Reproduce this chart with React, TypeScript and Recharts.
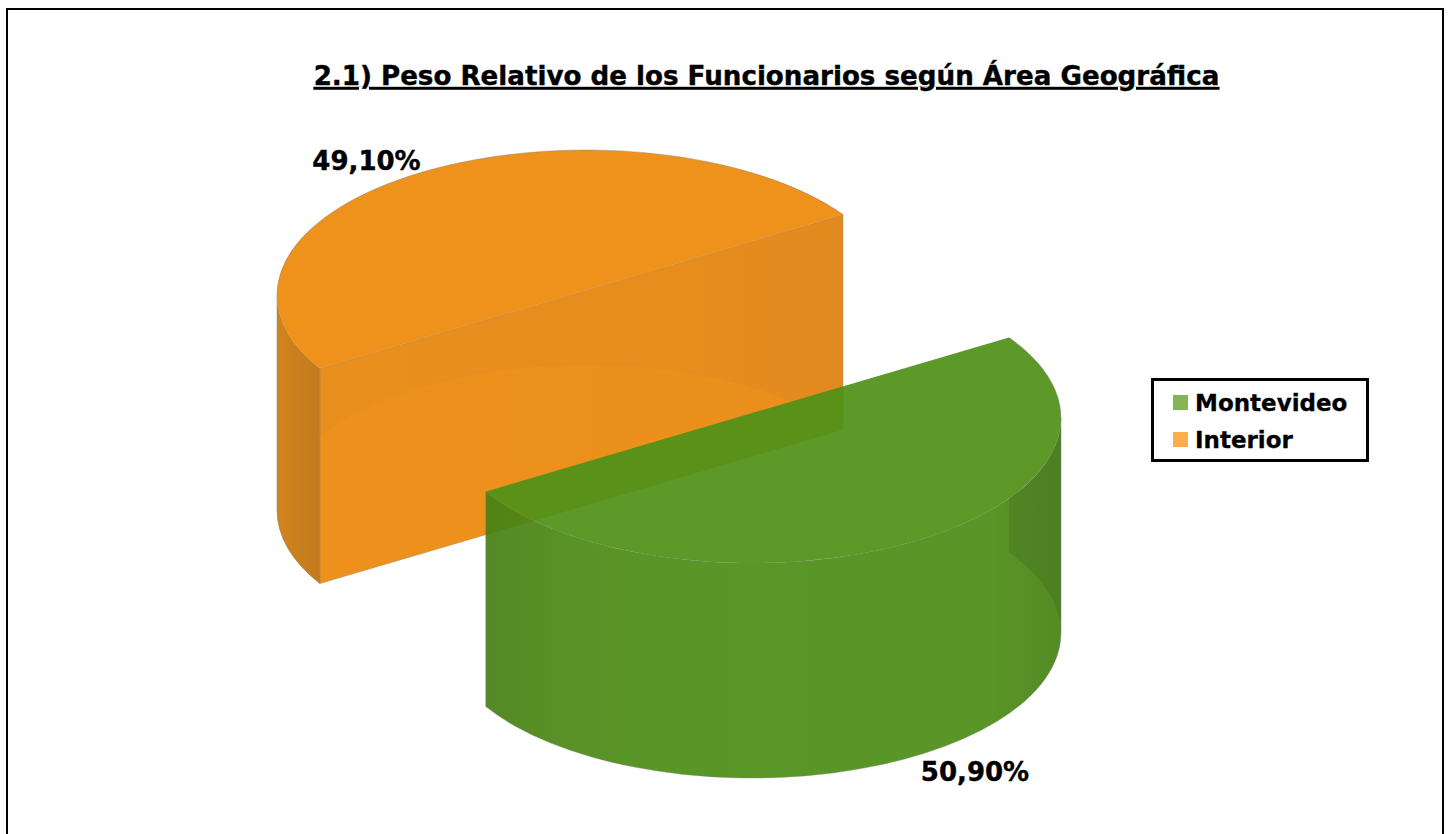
import { PieChart, Pie, Cell, Legend } from "recharts";

const TITLE = "2.1) Peso Relativo de los Funcionarios según Área Geográfica";
const CATEGORIES = ["Interior", "Montevideo"];
const VALUES = [49.1, 50.9];
const LEGEND_ORDER = ["Montevideo", "Interior"];
const LEGEND_COLORS: Record<string, string> = { Interior: "#FFAD4A", Montevideo: "#84B554" };

const tableData = CATEGORIES.map((name, i) => ({ name, value: VALUES[i] }));

const FONT = "'DejaVu Sans', Verdana, sans-serif";
const WIDTH = 1449;
const HEIGHT = 834;
const RY_RATIO = 145 / 309;
const DEPTH = 215;
const EDGE = "rgba(120,120,120,0.4)";

// how far each slice is pulled away from the pie centre
const EXPLODE: Record<string, [number, number]> = {
  Interior: [-83, -61.5],
  Montevideo: [83, 61.5],
};
const LABEL_POS: Record<string, [number, number]> = {
  Interior: [366.5, 170],
  Montevideo: [975, 781],
};
const SLICE_OPACITY: Record<string, number> = { Interior: 1, Montevideo: 0.93 };
const TOP_FILL: Record<string, string> = { Interior: "#EE921C", Montevideo: "#509219" };

const pt = (cx: number, cy: number, rx: number, ry: number, a: number) => {
  const r = (a * Math.PI) / 180;
  return [cx + rx * Math.cos(r), cy - ry * Math.sin(r)];
};

function arcPath(cx: number, cy: number, rx: number, ry: number, a0: number, a1: number) {
  const [x0, y0] = pt(cx, cy, rx, ry, a0);
  const [x1, y1] = pt(cx, cy, rx, ry, a1);
  const large = Math.abs(a1 - a0) > 180 ? 1 : 0;
  return `M${x0} ${y0}A${rx} ${ry} 0 ${large} 0 ${x1} ${y1}`;
}

function wallPath(cx: number, cy: number, rx: number, ry: number, a0: number, a1: number) {
  const [x0, y0] = pt(cx, cy, rx, ry, a0);
  const [x1, y1] = pt(cx, cy, rx, ry, a1);
  const large = Math.abs(a1 - a0) > 180 ? 1 : 0;
  return (
    `M${x0} ${y0}A${rx} ${ry} 0 ${large} 0 ${x1} ${y1}` +
    `L${x1} ${y1 + DEPTH}A${rx} ${ry} 0 ${large} 1 ${x0} ${y0 + DEPTH}Z`
  );
}

function Slice3D(props: any) {
  const { cx, cy, outerRadius, startAngle, endAngle, name } = props;
  const [ox, oy] = EXPLODE[name];
  const x = cx + ox;
  const y = cy + oy;
  const rx = outerRadius;
  const ry = outerRadius * RY_RATIO;
  const a0 = Math.min(startAngle, endAngle);
  const a1 = Math.max(startAngle, endAngle);
  const frontFrom = Math.max(a0, 180);
  const frontTo = Math.min(a1, 360);
  const [sx, sy] = pt(x, y, rx, ry, a0);
  const [ex, ey] = pt(x, y, rx, ry, a1);

  return (
    <g opacity={SLICE_OPACITY[name]}>
      {a1 < 360 && (
        <>
          <path
            d={`M${sx} ${sy}L${ex} ${ey}L${ex} ${ey + DEPTH}L${sx} ${sy + DEPTH}Z`}
            fill="url(#cut-Interior)"
            stroke={EDGE}
          />
          <path
            d={`${arcPath(x, y + DEPTH, rx, ry, a0, a1)}Z`}
            fill="#F0931C"
            fillOpacity={0.55}
          />
        </>
      )}
      <path
        d={wallPath(x, y, rx, ry, frontFrom, frontTo)}
        fill={`url(#wall-${name})`}
        stroke={EDGE}
      />
      {a1 > 360 && (
        <path d={wallPath(x, y, rx, ry, 360, a1)} fill="#000" fillOpacity={0.1} />
      )}
      <path d={`${arcPath(x, y, rx, ry, a0, a1)}Z`} fill={TOP_FILL[name]} />
      {/* borde gris del arco trasero */}
      <path
        d={a1 > 360 ? arcPath(x, y, rx, ry, 360, a1) : arcPath(x, y, rx, ry, a0, 180)}
        fill="none"
        stroke={EDGE}
      />
    </g>
  );
}

function sliceLabel(props: any) {
  const { name, value } = props;
  const [x, y] = LABEL_POS[name];
  return (
    <text
      x={x}
      y={y}
      textAnchor="middle"
      fontFamily={FONT}
      fontWeight="bold"
      fontSize={26}
      stroke="#000"
      strokeWidth={0.4}
      fill="#000"
    >
      {value.toFixed(2).replace(".", ",")}%
    </text>
  );
}

function LegendBox({ payload }: any) {
  return (
    <div
      style={{
        boxSizing: "border-box",
        width: 218,
        height: 84,
        border: "3px solid #000",
        background: "#fff",
        position: "relative",
        fontFamily: FONT,
      }}
    >
      {LEGEND_ORDER.map((name, i) => {
        const entry = (payload ?? []).find((p: any) => p.value === name);
        return (
          <div key={name}>
            <span
              style={{
                position: "absolute",
                left: 19,
                top: 14 + i * 36.5,
                width: 15,
                height: 15,
                background: entry?.color ?? LEGEND_COLORS[name],
              }}
            />
            <span
              style={{
                position: "absolute",
                left: 41,
                top: 8 + i * 36.5,
                fontSize: 23,
                fontWeight: "bold",
                lineHeight: "28px",
                color: "#000",
                WebkitTextStroke: "0.3px #000",
              }}
            >
              {name}
            </span>
          </div>
        );
      })}
    </div>
  );
}

export default function App() {
  return (
    <div style={{ position: "absolute", left: 0, top: 0, width: WIDTH, height: HEIGHT, background: "#fff", overflow: "hidden" }}>
      {/* marco */}
      <div
        style={{
          position: "absolute",
          left: 6,
          top: 8,
          width: 1434,
          height: 840,
          borderLeft: "2px solid #000",
          borderTop: "2px solid #000",
          borderRight: "2px solid #000",
        }}
      />
      <div style={{ position: "absolute", left: 0, top: 0 }}>
        <PieChart width={WIDTH} height={HEIGHT} margin={{ top: 0, right: 0, bottom: 0, left: 0 }}>
          <defs>
            <linearGradient id="wall-Interior" x1="0" y1="0" x2="1" y2="0">
              <stop offset="0%" stopColor="#D2841D" />
              <stop offset="100%" stopColor="#C27A1E" />
            </linearGradient>
            <linearGradient id="cut-Interior" x1="0" y1="0" x2="1" y2="0">
              <stop offset="0%" stopColor="#E88F1E" />
              <stop offset="70%" stopColor="#E78D1E" />
              <stop offset="100%" stopColor="#E2891F" />
            </linearGradient>
            <linearGradient id="wall-Montevideo" x1="0" y1="0" x2="1" y2="0">
              <stop offset="0%" stopColor="#488115" />
              <stop offset="16%" stopColor="#4D8B17" />
              <stop offset="45%" stopColor="#4F8F18" />
              <stop offset="88%" stopColor="#4E8D17" />
              <stop offset="100%" stopColor="#488315" />
            </linearGradient>
          </defs>
          <text
            x={766.5}
            y={85}
            textAnchor="middle"
            fontFamily={FONT}
            fontWeight="bold"
            fontSize={26.15}
            textDecoration="underline"
            stroke="#000"
            strokeWidth={0.4}
            fill="#000"
          >
            {TITLE}
          </text>
          <Pie
            data={tableData}
            dataKey="value"
            nameKey="name"
            cx={669}
            cy={356.5}
            outerRadius={309}
            startAngle={33.74}
            endAngle={393.74}
            stroke="none"
            shape={Slice3D}
            label={sliceLabel}
            labelLine={false}
            isAnimationActive={false}
          >
            {CATEGORIES.map((name) => (
              <Cell key={name} fill={LEGEND_COLORS[name]} />
            ))}
          </Pie>
          <Legend
            content={<LegendBox />}
            layout="vertical"
            wrapperStyle={{ position: "absolute", left: 1151, top: 378, width: 218, height: 84 }}
          />
        </PieChart>
      </div>
    </div>
  );
}
